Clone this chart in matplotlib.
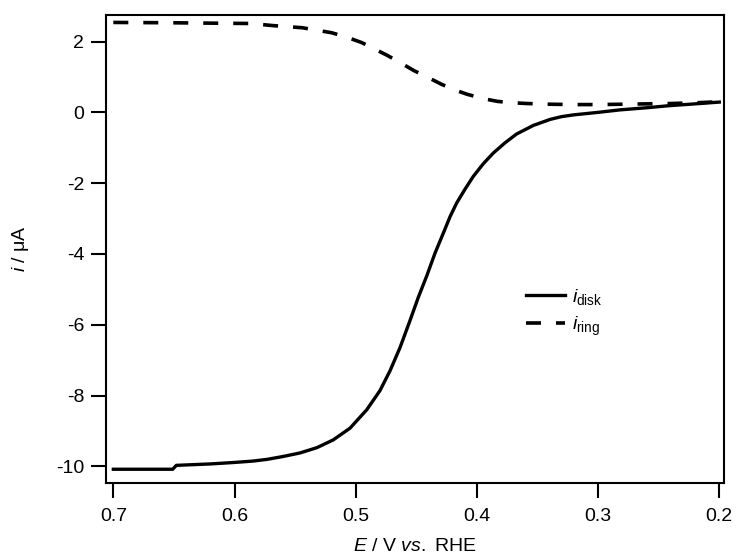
import matplotlib
matplotlib.use("Agg")
import matplotlib.pyplot as plt

plt.rcParams['font.family'] = ['Liberation Sans', 'DejaVu Sans']
plt.rcParams['mathtext.fontset'] = 'custom'
plt.rcParams['mathtext.rm'] = 'Liberation Sans'
plt.rcParams['mathtext.it'] = 'Liberation Sans:italic'
plt.rcParams['mathtext.bf'] = 'Liberation Sans:bold'

# Disk current (uA) vs potential (V vs RHE)
E_disk = [0.70, 0.651, 0.648, 0.62, 0.601, 0.585, 0.573, 0.56, 0.546, 0.532, 0.5185,
          0.5047, 0.4909, 0.480, 0.4717, 0.4634, 0.4552, 0.4483, 0.4414, 0.4346,
          0.4277, 0.4222, 0.4167, 0.4098, 0.4030, 0.3947, 0.3865, 0.3768, 0.3672,
          0.3535, 0.3397, 0.33, 0.32, 0.30, 0.282, 0.26, 0.241, 0.22, 0.20]
i_disk = [-10.08, -10.08, -9.97, -9.93, -9.89, -9.85, -9.80, -9.72, -9.62, -9.47, -9.25,
          -8.92, -8.40, -7.86, -7.30, -6.64, -5.88, -5.22, -4.62, -3.98,
          -3.41, -2.95, -2.56, -2.17, -1.81, -1.45, -1.15, -0.86, -0.61,
          -0.37, -0.20, -0.12, -0.07, 0.00, 0.07, 0.13, 0.19, 0.24, 0.29]

# Ring current (uA)
E_ring = [0.70, 0.65, 0.62, 0.587, 0.568, 0.544, 0.52, 0.507, 0.495, 0.485, 0.474,
          0.463, 0.452, 0.44, 0.429, 0.418, 0.408, 0.395, 0.383, 0.37, 0.359,
          0.34, 0.32, 0.30, 0.28, 0.26, 0.24, 0.22, 0.20]
i_ring = [2.54, 2.53, 2.52, 2.51, 2.45, 2.39, 2.25, 2.12, 1.97, 1.80, 1.61,
          1.40, 1.18, 0.98, 0.79, 0.63, 0.51, 0.39, 0.31, 0.27, 0.25,
          0.23, 0.22, 0.22, 0.23, 0.24, 0.25, 0.27, 0.30]

x_ticks = [0.7, 0.6, 0.5, 0.4, 0.3, 0.2]
x_ticklabels = ['0.7', '0.6', '0.5', '0.4', '0.3', '0.2']
y_ticks = [2, 0, -2, -4, -6, -8, -10]
y_ticklabels = ['2', '0', '-2', '-4', '-6', '-8', '-10']

fig = plt.figure(figsize=(7.36, 5.60), dpi=100)
ax = fig.add_axes([105.7/736, 1 - 482.7/560, (724 - 105.7)/736, (482.7 - 15)/560])

ax.plot(E_disk, i_disk, color='black', lw=2.4, label=r'$\mathit{i}_{\mathrm{disk}}$')
ax.plot(E_ring, i_ring, color='black', lw=2.6, dashes=(4.15, 4.15),
        label=r'$\mathit{i}_{\mathrm{ring}}$')

ax.set_xlim(0.7063, 0.1961)
ax.set_ylim(-10.46, 2.75)
ax.set_xticks(x_ticks)
ax.set_xticklabels(x_ticklabels)
ax.set_yticks(y_ticks)
ax.set_yticklabels(y_ticklabels)

for s in ax.spines.values():
    s.set_linewidth(1.5)
ax.tick_params(axis='both', direction='out', length=10.5, width=1.5,
               labelsize=14, colors='black')
ax.tick_params(axis='x', pad=8)
ax.tick_params(axis='y', pad=5)

ax.set_xlabel(r'$\mathit{E}$ / V $\mathit{vs.}$ RHE', fontsize=14, labelpad=9)
ax.set_ylabel(r'$\mathit{i}$ / μA', fontsize=14, labelpad=18)

leg = ax.legend(loc='upper left',
                bbox_to_anchor=((526 - 105.7)/618.3, (482.7 - 287)/467.7),
                frameon=False, fontsize=14, handlelength=2.0,
                handletextpad=0.35, labelspacing=0.4, borderpad=0,
                borderaxespad=0)

fig.savefig('out.png', dpi=100)
